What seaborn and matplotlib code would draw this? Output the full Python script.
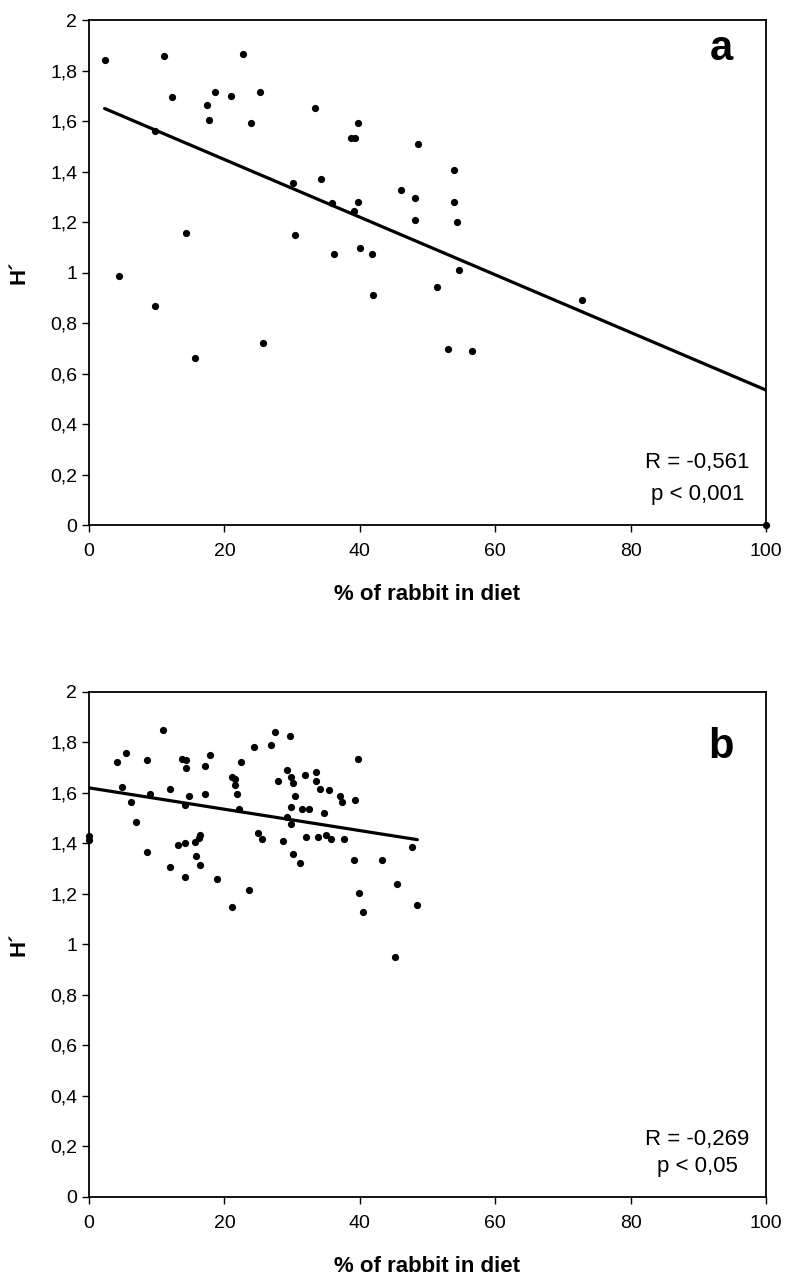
import matplotlib
matplotlib.use("Agg")
import matplotlib.pyplot as plt
import seaborn as sns
import numpy as np

# panel a: % of rabbit in diet vs H'
a_x = [2.3, 11.1, 22.7, 12.3, 18.6, 21.0, 25.2, 17.5, 17.7, 24.0, 33.4, 9.8,
       30.1, 34.3, 35.9, 14.4, 30.4, 36.2, 4.5, 9.8, 25.7, 15.6, 39.8, 38.7,
       39.3, 48.6, 53.9, 46.1, 48.1, 53.9, 39.8, 39.2, 48.1, 54.4, 40.1, 41.8,
       54.6, 51.4, 42.0, 72.8, 53.0, 56.5, 100.0]
a_y = [1.840, 1.857, 1.864, 1.694, 1.716, 1.701, 1.716, 1.665, 1.605, 1.591,
       1.650, 1.562, 1.354, 1.369, 1.274, 1.156, 1.147, 1.074, 0.986, 0.867,
       0.720, 0.660, 1.591, 1.531, 1.531, 1.510, 1.406, 1.325, 1.295, 1.281,
       1.281, 1.244, 1.207, 1.200, 1.097, 1.074, 1.009, 0.941, 0.912, 0.890,
       0.697, 0.690, 0.0]

# panel b
b_x = [10.9, 27.5, 24.4, 26.9, 5.4, 4.2, 8.5, 13.7, 14.3, 17.8, 14.3, 17.2,
       22.5, 21.1, 21.6, 21.6, 27.9, 4.8, 12.0, 9.0, 17.2, 21.9, 14.8, 6.2,
       14.2, 22.2, 7.0, 0.0, 0.0, 25.0, 25.6, 16.4, 16.2, 15.6, 14.2, 13.1,
       8.5, 15.8, 16.4, 12.0, 14.2, 18.9, 23.6, 21.1,
       29.7, 39.8, 29.2, 33.6, 29.9, 31.9, 30.2, 33.6, 34.1, 35.5, 37.1, 37.4,
       39.3, 30.5, 29.9, 31.4, 32.5, 34.7, 29.2, 29.9, 28.6, 32.1, 33.8, 35.0,
       35.7, 37.7, 30.2, 31.1, 39.1, 43.3, 47.7,
       45.5, 39.9, 40.5, 48.5, 45.2]
b_y = [1.848, 1.840, 1.781, 1.789, 1.758, 1.723, 1.729, 1.736, 1.729, 1.752,
       1.699, 1.707, 1.722, 1.663, 1.655, 1.633, 1.647, 1.625, 1.617, 1.596,
       1.596, 1.596, 1.588, 1.566, 1.551, 1.537, 1.484, 1.430, 1.415, 1.440,
       1.418, 1.434, 1.422, 1.405, 1.403, 1.395, 1.366, 1.352, 1.315, 1.307,
       1.269, 1.258, 1.217, 1.150,
       1.826, 1.736, 1.691, 1.684, 1.663, 1.670, 1.641, 1.647, 1.617, 1.611,
       1.588, 1.566, 1.574, 1.588, 1.543, 1.537, 1.537, 1.521, 1.506, 1.477,
       1.410, 1.426, 1.426, 1.432, 1.418, 1.418, 1.358, 1.322, 1.336, 1.336,
       1.387, 1.240, 1.203, 1.129, 1.158, 0.950]

x_ticks = [0, 20, 40, 60, 80, 100]
y_ticks = [0, 0.2, 0.4, 0.6, 0.8, 1.0, 1.2, 1.4, 1.6, 1.8, 2.0]
y_tick_labels = ["0", "0,2", "0,4", "0,6", "0,8", "1", "1,2", "1,4", "1,6", "1,8", "2"]

# tag, x, y, R text, p text, R baseline, tag baseline
panels = [
    ("a", a_x, a_y, "R = -0,561", "p < 0,001", 0.113, 0.92),
    ("b", b_x, b_y, "R = -0,269", "p < 0,05", 0.103, 0.87),
]

sns.set_style("ticks")
plt.rcParams["font.family"] = ["Liberation Sans", "DejaVu Sans"]
plt.rcParams["text.color"] = "black"
plt.rcParams["axes.labelcolor"] = "black"
plt.rcParams["xtick.color"] = "black"
plt.rcParams["ytick.color"] = "black"

fig = plt.figure(figsize=(7.87, 12.85), dpi=100)
rects = [[0.1131, 0.5914, 0.8602, 0.3930], [0.1131, 0.0685, 0.8602, 0.3930]]

for rect, (tag, xs, ys, r_txt, p_txt, r_y, tag_y) in zip(rects, panels):
    ax = fig.add_axes(rect)
    # scatter + least-squares line over the data range
    sns.regplot(x=np.array(xs), y=np.array(ys), ci=None, ax=ax,
                scatter_kws=dict(s=27, color="black", alpha=1, clip_on=False, linewidths=0),
                line_kws=dict(color="black", lw=2.3))
    ax.set_xlim(0, 100)
    ax.set_ylim(0, 2)
    ax.set_xticks(x_ticks)
    ax.set_xticklabels([str(t) for t in x_ticks])
    ax.set_yticks(y_ticks)
    ax.set_yticklabels(y_tick_labels)
    ax.tick_params(labelsize=14, length=5, width=1, colors="black", direction="out")
    ax.tick_params(axis="x", pad=8)
    for sp in ax.spines.values():
        sp.set_visible(True)
        sp.set_color("black")
        sp.set_linewidth(1.3)
    ax.set_xlabel("% of rabbit in diet", fontsize=16, fontweight="bold", labelpad=17)
    ax.set_ylabel("H´", fontsize=16, fontweight="bold", labelpad=15)
    ax.text(0.934, tag_y, tag, transform=ax.transAxes, fontsize=30,
            fontweight="bold", ha="center", va="baseline")
    ax.text(0.899, r_y, r_txt, transform=ax.transAxes, fontsize=16,
            ha="center", va="baseline")
    ax.text(0.899, 0.05, p_txt, transform=ax.transAxes, fontsize=16,
            ha="center", va="baseline")

fig.savefig("out.png", dpi=100, facecolor="white")
